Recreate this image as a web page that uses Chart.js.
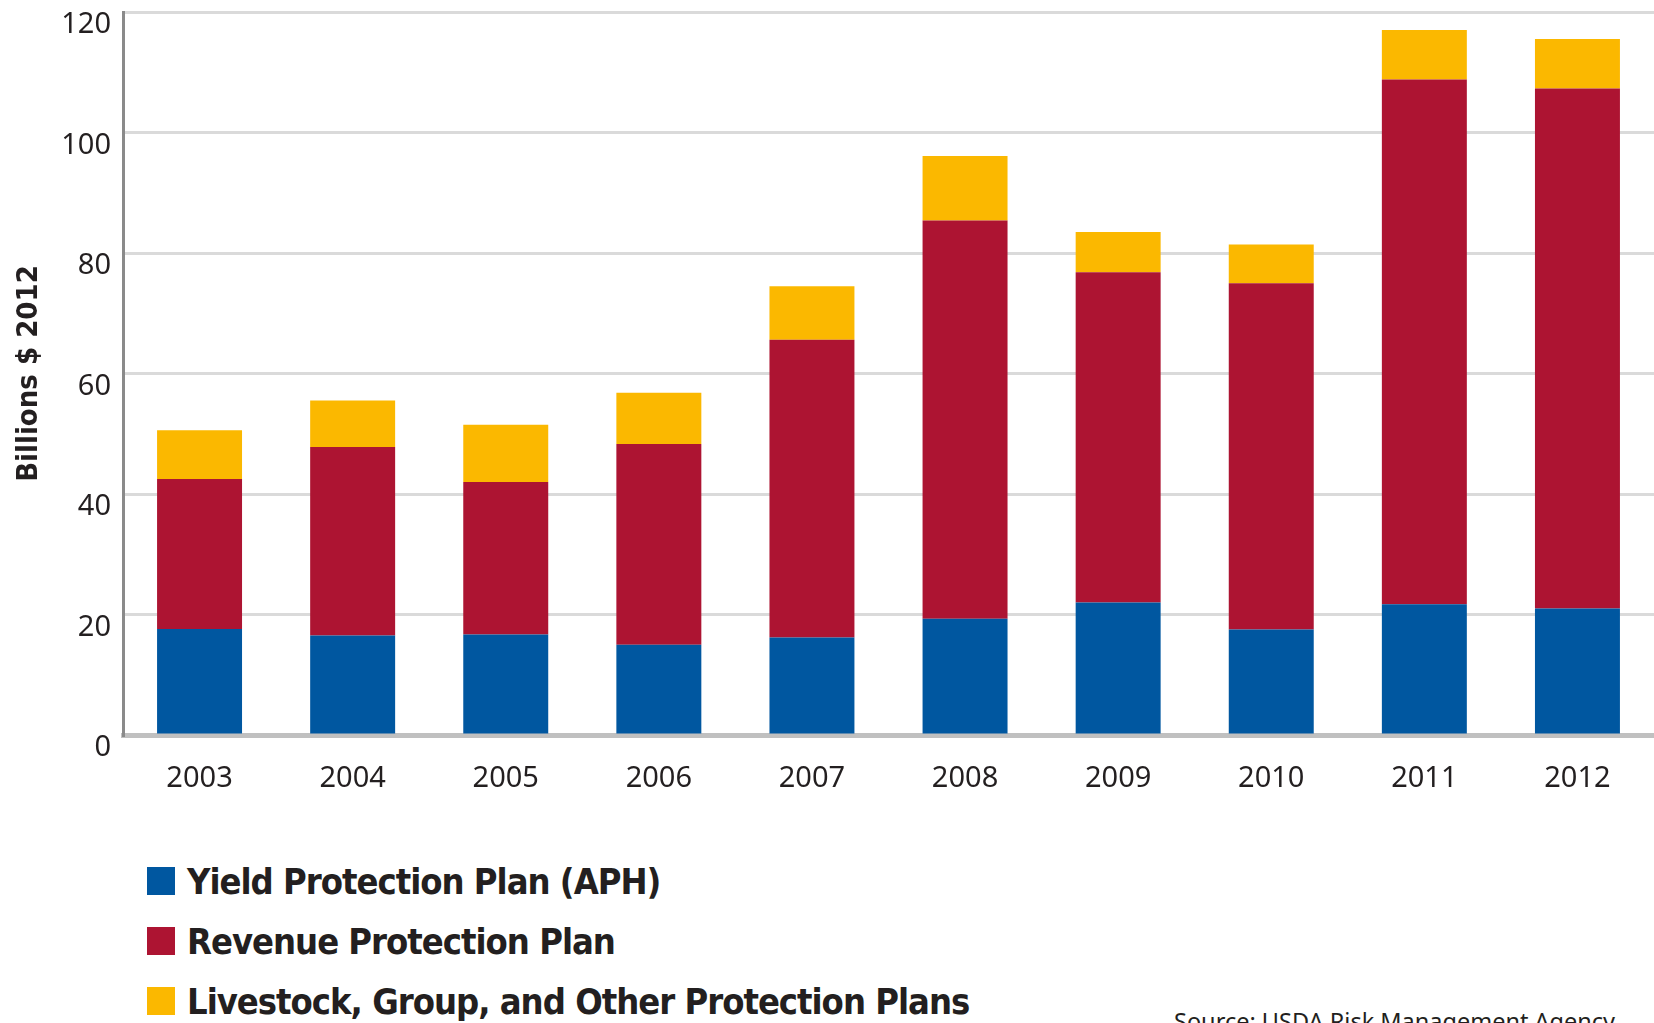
<!DOCTYPE html>
<html>
<head>
<meta charset="utf-8">
<script src="https://cdn.jsdelivr.net/npm/chart.js@4.4.1/dist/chart.umd.min.js"></script>
<style>
    html, body { margin: 0; padding: 0; background: #ffffff; overflow: hidden; }
    #wrap { position: relative; width: 1654px; height: 1023px; }
    #chartBox { position: absolute; left: 0; top: 0; width: 1654px; height: 800px; }
    #legend { position: absolute; left: 147px; top: 851px; }
    .item { display: flex; align-items: center; height: 60px; }
    .swatch { width: 28px; height: 28px; margin-right: 12px; }
    .label {
        font-family: "DejaVu Sans Condensed", "DejaVu Sans", sans-serif;
        font-stretch: condensed;
        font-weight: bold;
        font-size: 36px;
        color: #231f20;
        letter-spacing: -1px;
        white-space: nowrap;
    }
    #source {
        position: absolute; left: 1174px; top: 1005px;
        font-family: "Noto Sans", sans-serif; font-size: 23.5px; color: #231f20;
        white-space: nowrap;
    }
</style>
</head>
<body>
<div id="wrap">
    <div id="chartBox"><canvas id="creditChart"></canvas></div>
    <div id="legend"></div>
    <div id="source">Source: USDA Risk Management Agency</div>
</div>
<script>
const years = ["2003", "2004", "2005", "2006", "2007", "2008", "2009", "2010", "2011", "2012"];

// stacked segments, billions $ 2012
const yieldPlan = [17.6, 16.5, 16.7, 15.0, 16.2, 19.3, 22.0, 17.5, 21.7, 21.0];
const revenuePlan = [24.9, 31.3, 25.3, 33.3, 49.4, 66.1, 54.8, 57.5, 87.1, 86.3];
const otherPlans = [8.1, 7.7, 9.5, 8.5, 8.9, 10.7, 6.7, 6.4, 8.2, 8.2];

const seriesNames = [
    "Yield Protection Plan (APH)",
    "Revenue Protection Plan",
    "Livestock, Group, and Other Protection Plans"
];
const seriesColors = ["#0057a0", "#ad1432", "#fbb800"];

const yTicks = [0, 20, 40, 60, 80, 100, 120];

const tickFont = { family: "Noto Sans", size: 29 };

const ctx = document.getElementById("creditChart").getContext("2d");

const chart = new Chart(ctx, {
    type: "bar",
    data: {
        labels: years,
        datasets: [yieldPlan, revenuePlan, otherPlans].map((values, i) => ({
            label: seriesNames[i],
            data: values,
            backgroundColor: seriesColors[i],
            borderWidth: 0,
            barPercentage: 0.555,
            categoryPercentage: 1.0
        }))
    },
    options: {
        responsive: true,
        maintainAspectRatio: false,
        animation: false,
        layout: { padding: { top: 12, left: 0, right: 0, bottom: 0 } },
        plugins: {
            legend: { display: false },
            tooltip: { enabled: false }
        },
        scales: {
            x: {
                stacked: true,
                grid: { display: false },
                border: { color: "#c0c0c0", width: 5 },
                ticks: { color: "#231f20", font: tickFont, padding: 18 },
                afterFit: function (scale) {
                    scale.height = 65;
                    scale.paddingLeft = 0;
                    scale.paddingRight = 0;
                }
            },
            y: {
                stacked: true,
                min: 0,
                max: 120,
                afterBuildTicks: function (scale) {
                    scale.ticks = yTicks.map(v => ({ value: v }));
                },
                grid: {
                    drawTicks: false,
                    lineWidth: 3,
                    color: c => c.tick && c.tick.value === 0 ? "rgba(0,0,0,0)" : "#dadada"
                },
                border: { color: "#8a8a8a", width: 3 },
                ticks: {
                    color: "#231f20",
                    font: tickFont,
                    padding: 12,
                    labelOffset: 13
                },
                title: {
                    display: true,
                    text: "Billions $ 2012",
                    color: "#231f20",
                    font: { family: "DejaVu Sans Condensed", weight: "bold", size: 29 },
                    padding: { top: 12, bottom: 0 }
                },
                afterFit: function (scale) {
                    scale.width = 123;
                    scale.paddingTop = 0;
                    scale.paddingBottom = 0;
                }
            }
        }
    }
});

// legend stacked vertically under the chart
const legendBox = document.getElementById("legend");
chart.data.datasets.forEach(ds => {
    const row = document.createElement("div");
    row.className = "item";
    const sw = document.createElement("span");
    sw.className = "swatch";
    sw.style.background = ds.backgroundColor;
    const txt = document.createElement("span");
    txt.className = "label";
    txt.innerText = ds.label;
    row.appendChild(sw);
    row.appendChild(txt);
    legendBox.appendChild(row);
});
</script>
</body>
</html>
